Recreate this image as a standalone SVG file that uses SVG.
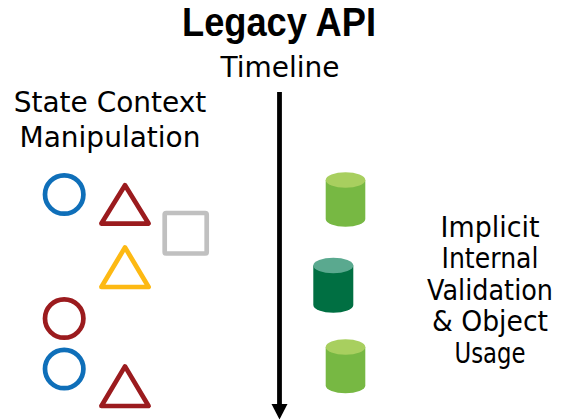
<svg xmlns="http://www.w3.org/2000/svg" width="577" height="420" viewBox="0 0 577 420">
<style>
text{font-family:"DejaVu Sans","Liberation Sans",sans-serif;font-size:28px;fill:#000;text-anchor:middle}
.title{font-family:"Liberation Sans",Arial,sans-serif;font-weight:bold;font-size:40px}
.shape{fill:none;stroke-width:4.7;stroke-linejoin:round}
.blue{stroke:#0f6fb9}
.red{stroke:#9b1b1e}
.yellow{stroke:#fdb913}
.gray{stroke:#c0c0c0}
.lg-body{fill:#77b843}
.lg-top{fill:#a8cf5f}
.dg-body{fill:#006f42}
.dg-top{fill:#5aa98f}
</style>
<g id="title"><text class="title" x="279" y="36" textLength="194" lengthAdjust="spacingAndGlyphs">Legacy API</text></g>
<g id="timeline-label"><text x="280" y="77">Timeline</text></g>
<g id="left-label"><text x="110" y="112">State Context</text><text x="110" y="147">Manipulation</text></g>
<g id="right-label">
<text x="490" y="237" textLength="99" lengthAdjust="spacingAndGlyphs">Implicit</text>
<text x="490" y="268" textLength="97" lengthAdjust="spacingAndGlyphs">Internal</text>
<text x="490" y="300" textLength="126" lengthAdjust="spacingAndGlyphs">Validation</text>
<text x="490" y="331" textLength="116" lengthAdjust="spacingAndGlyphs">&amp; Object</text>
<text x="490" y="363" textLength="71" lengthAdjust="spacingAndGlyphs">Usage</text>
</g>
<g id="connectors">
<path d="M279.5,92 L279.5,405" stroke="#000" stroke-width="4.8" fill="none"/>
<path d="M271.5,404 L287.5,404 L279.5,419.5 Z" fill="#000"/>
</g>
<g id="circle-blue-1"><circle class="shape blue" cx="64.2" cy="194.5" r="19.2"/></g>
<g id="triangle-red-1"><path class="shape red" d="M125,185.2 L148.6,223.6 L101.4,223.6 Z"/></g>
<g id="square-gray"><rect class="shape gray" x="164.7" y="213" width="42" height="40.5" rx="1.5"/></g>
<g id="triangle-yellow"><path class="shape yellow" d="M125,247.4 L148.6,287 L101.4,287 Z"/></g>
<g id="circle-red"><circle class="shape red" cx="64.2" cy="318.5" r="19.2"/></g>
<g id="circle-blue-2"><circle class="shape blue" cx="64.2" cy="369" r="19.2"/></g>
<g id="triangle-red-2"><path class="shape red" d="M125,366.4 L148.6,406 L101.4,406 Z"/></g>
<g id="cylinder-1">
<path class="lg-body" d="M325.7,180 L325.7,219 A19.8,7.7 0 0 0 365.3,219 L365.3,180 Z"/>
<ellipse class="lg-top" cx="345.5" cy="180" rx="19.8" ry="7.7"/>
</g>
<g id="cylinder-2">
<path class="dg-body" d="M313.3,265.5 L313.3,305 A20,7.7 0 0 0 353.3,305 L353.3,265.5 Z"/>
<ellipse class="dg-top" cx="333.3" cy="265.5" rx="20" ry="7.8"/>
</g>
<g id="cylinder-3">
<path class="lg-body" d="M325.7,347 L325.7,385.6 A19.8,7.7 0 0 0 365.3,385.6 L365.3,347 Z"/>
<ellipse class="lg-top" cx="345.5" cy="347" rx="19.8" ry="7.7"/>
</g>
</svg>
